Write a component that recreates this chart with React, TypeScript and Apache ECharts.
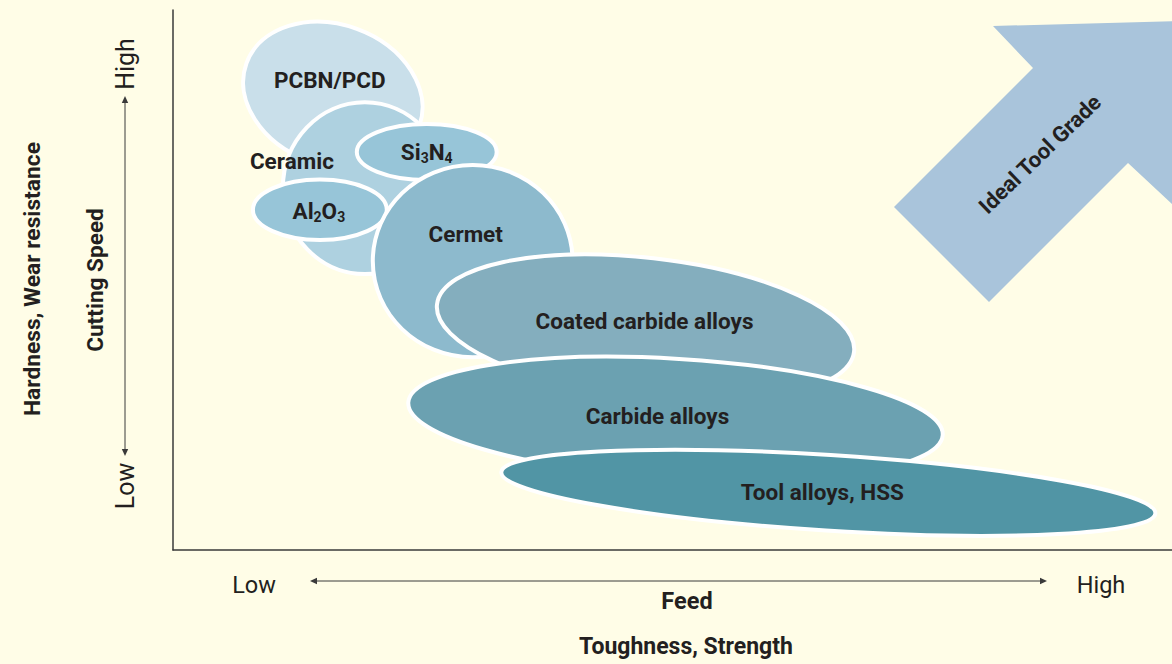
import React, { useEffect, useRef } from "react";
import * as echarts from "echarts";

// Tool materials (ellipses): centre on Feed (x, 0-100) and Cutting speed (y, 0-100) scales,
// half-extents in the same units, tilt in degrees.
const materials = ["PCBN/PCD", "Ceramic", "Si3N4", "Al2O3", "Cermet", "Coated carbide alloys", "Carbide alloys", "Tool alloys, HSS"];
const labels = ["PCBN/PCD", "Ceramic", "Si{s|3}N{s|4}", "Al{s|2}O{s|3}", "Cermet", "Coated carbide alloys", "Carbide alloys", "Tool alloys, HSS"];
const centerX = [16.0, 19.2, 25.4, 14.7, 30.0, 47.3, 50.3, 65.6];
const centerY = [84.3, 67.0, 73.7, 63.0, 53.5, 41.1, 24.3, 10.6];
const radiusX = [9.2, 8.2, 7.0, 6.7, 10.0, 21.0, 26.8, 32.8];
const radiusY = [13.0, 15.9, 5.2, 5.6, 17.8, 13.0, 11.1, 7.0];
const tilt = [-20, 0, 0, 0, 0, -6.5, -3.5, -3.6];
const labelX = [15.7, 11.9, 25.4, 14.6, 29.3, 47.2, 48.5, 65.0];
const labelY = [87.0, 72.0, 73.7, 62.8, 58.5, 42.4, 24.8, 10.7];
const fills = ["#C9DFEA", "#AED1E0", "#97C5D8", "#97C5D8", "#8DBACD", "#84AEBE", "#6BA1B1", "#5195A5"];

const xTickLabels = ["Low", "High"];
const yTickLabels = ["Low", "High"];

const TEXT = "#231F20";
const LINE = "#3A3A3A";
const BG = "#FFFDE7";

export default function App() {
  const ref = useRef<HTMLDivElement>(null);

  useEffect(() => {
    if (!ref.current) return;
    const chart = echarts.init(ref.current, undefined, { renderer: "svg" });

    const data = materials.map((m, i) => ({
      name: m,
      value: [centerX[i], centerY[i], radiusX[i], radiusY[i], tilt[i], labelX[i], labelY[i]],
    }));

    const arrowHead = (x: number, y: number, dir: "up" | "down" | "left" | "right") => {
      const L = 7, W = 3.2;
      let pts: number[][];
      if (dir === "up") pts = [[x, y], [x - W, y + L], [x + W, y + L]];
      else if (dir === "down") pts = [[x, y], [x - W, y - L], [x + W, y - L]];
      else if (dir === "left") pts = [[x, y], [x + L, y - W], [x + L, y + W]];
      else pts = [[x, y], [x - L, y - W], [x - L, y + W]];
      return { type: "polygon", shape: { points: pts }, style: { fill: LINE } };
    };

    const txt = (x: number, y: number, text: string, size: number, bold: boolean, vertical = false, rotation = 0) => ({
      type: "text",
      x,
      y,
      rotation: vertical ? Math.PI / 2 : rotation,
      style: {
        text,
        fill: TEXT,
        fontFamily: "Roboto",
        fontWeight: bold ? "bold" : "normal",
        fontSize: size,
        align: "center",
        verticalAlign: "middle",
      },
    });

    const option: any = {
      animation: false,
      backgroundColor: BG,
      grid: { left: 173, right: 0, top: 10, bottom: 114, containLabel: false },
      xAxis: {
        type: "value",
        min: 0,
        max: 100,
        axisLine: { show: true, onZero: false, lineStyle: { color: LINE, width: 1.5 } },
        axisTick: { show: false },
        axisLabel: { show: false },
        splitLine: { show: false },
      },
      yAxis: {
        type: "value",
        min: 0,
        max: 100,
        axisLine: { show: true, onZero: false, lineStyle: { color: LINE, width: 1.5 } },
        axisTick: { show: false },
        axisLabel: { show: false },
        splitLine: { show: false },
      },
      graphic: [
        // Ideal tool grade arrow
        {
          type: "polygon",
          shape: {
            points: [
              [894, 207],
              [1033, 68],
              [993, 26],
              [1177, 21],
              [1172, 204],
              [1128, 163],
              [989, 302],
            ],
          },
          style: { fill: "#A9C4DB" },
        },
        txt(1040, 154, "Ideal Tool Grade", 22, true, false, (44 * Math.PI) / 180),
        // left titles
        txt(32, 279, "Hardness, Wear resistance", 22.8, true, true),
        txt(95, 280, "Cutting Speed", 22.6, true, true),
        txt(125, 64, yTickLabels[1], 25, false, true),
        txt(125, 486, yTickLabels[0], 25, false, true),
        { type: "line", shape: { x1: 125, y1: 100, x2: 125, y2: 452 }, style: { stroke: LINE, lineWidth: 1 } },
        arrowHead(125, 96, "up"),
        arrowHead(125, 456, "down"),
        // bottom titles
        txt(254, 585, xTickLabels[0], 23.5, false),
        txt(1101, 585, xTickLabels[1], 23.5, false),
        { type: "line", shape: { x1: 314, y1: 581, x2: 1043, y2: 581 }, style: { stroke: LINE, lineWidth: 1 } },
        arrowHead(310, 581, "left"),
        arrowHead(1047, 581, "right"),
        txt(687, 601, "Feed", 23.5, true),
        txt(686, 646, "Toughness, Strength", 23, true),
      ],
      series: [
        {
          type: "custom",
          coordinateSystem: "cartesian2d",
          data,
          encode: { x: 0, y: 1 },
          clip: false,
          renderItem: (params: any, api: any) => {
            const i = params.dataIndex;
            const c = api.coord([api.value(0), api.value(1)]);
            const s = api.size([api.value(2), api.value(3)]);
            const l = api.coord([api.value(5), api.value(6)]);
            const rot = (api.value(4) * Math.PI) / 180;
            return {
              type: "group",
              children: [
                {
                  type: "ellipse",
                  x: c[0],
                  y: c[1],
                  rotation: rot,
                  shape: { cx: 0, cy: 0, rx: s[0], ry: s[1] },
                  style: { fill: fills[i], stroke: "#FFFFFF", lineWidth: 4 },
                },
                {
                  type: "text",
                  x: l[0],
                  y: l[1],
                  style: {
                    text: labels[i],
                    fill: TEXT,
                    fontFamily: "Roboto",
                    fontWeight: "bold",
                    fontSize: 22.5,
                    lineHeight: 26,
                    align: "center",
                    verticalAlign: "middle",
                    rich: {
                      s: { fontSize: 14, fontWeight: "bold", fontFamily: "Roboto", fill: TEXT, verticalAlign: "bottom", lineHeight: 17 },
                    },
                  },
                },
              ],
            };
          },
        },
      ],
    };

    chart.setOption(option);
    return () => chart.dispose();
  }, []);

  return (
    <div
      ref={ref}
      style={{ position: "fixed", left: 0, top: 0, width: 1172, height: 664, background: BG }}
    />
  );
}
